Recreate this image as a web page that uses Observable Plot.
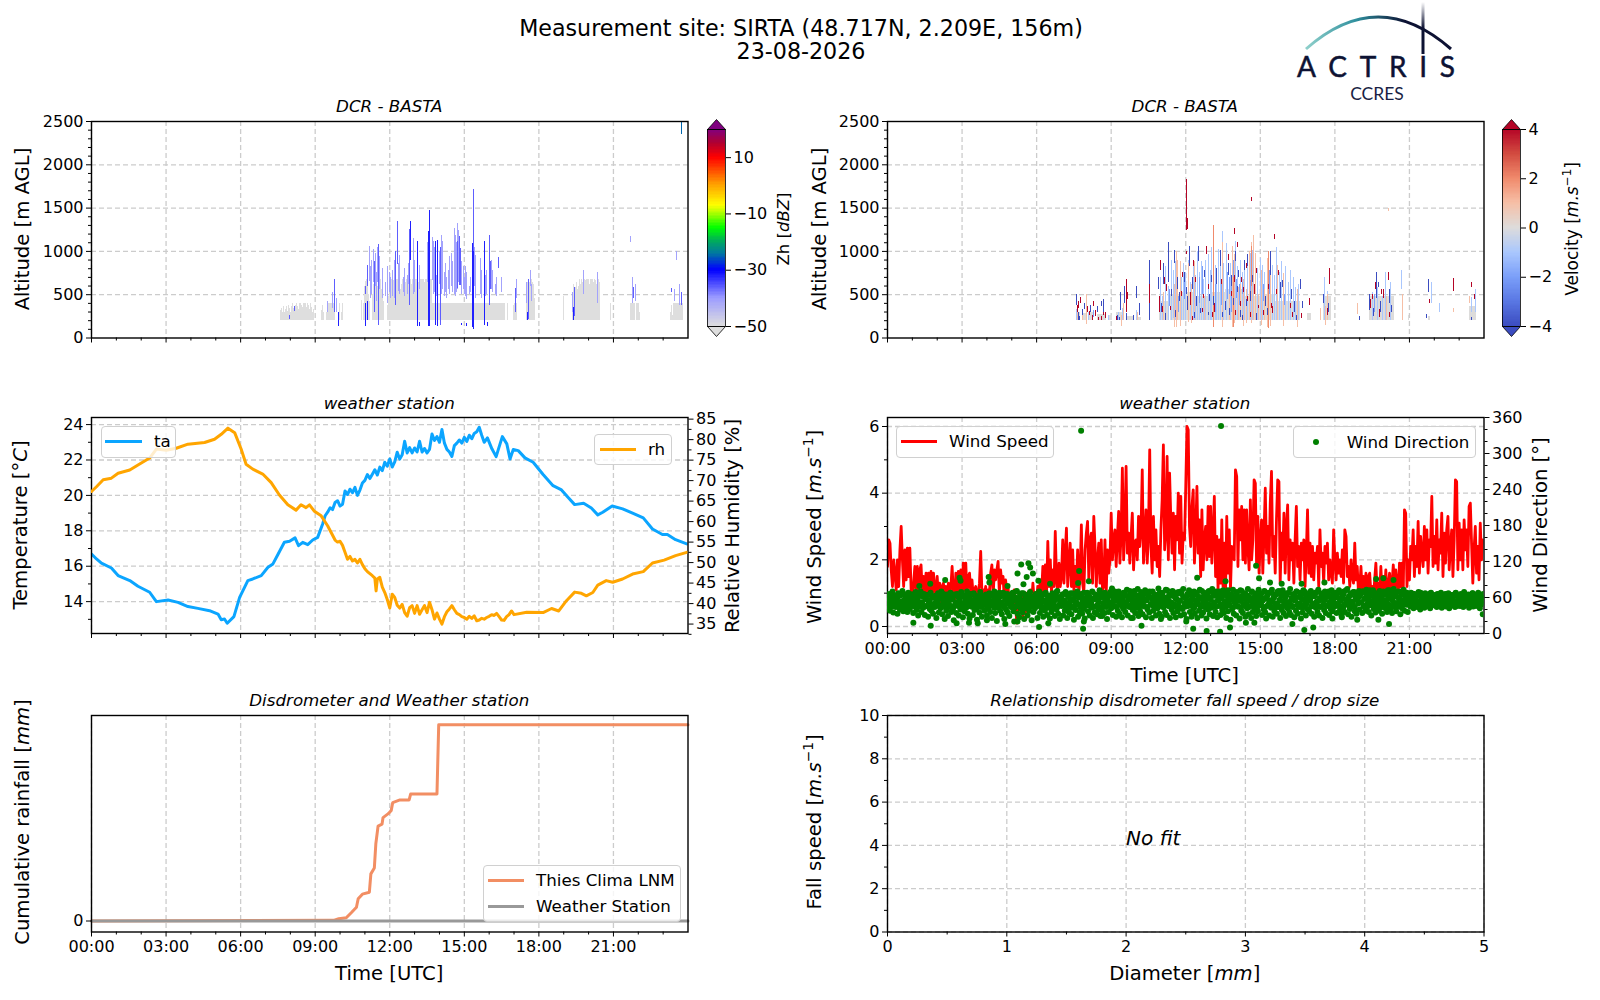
<!DOCTYPE html>
<html><head><meta charset="utf-8">
<script src="https://cdn.jsdelivr.net/npm/d3@7"></script>
<script src="https://cdn.jsdelivr.net/npm/@observablehq/plot@0.6"></script>
<style>
html,body{margin:0;background:#fff}
#page{position:relative;width:1600px;height:1000px;overflow:hidden;font-family:"DejaVu Sans";color:#000}
#page svg{position:absolute}
.t{position:absolute;white-space:nowrap;transform:translate(-50%,-50%)}
.r{position:absolute;white-space:nowrap;transform:translate(-50%,-50%) rotate(-90deg)}
.r sup{font-size:.7em;line-height:0}
.lg{position:absolute;background:rgba(255,255,255,.8);border:1.3px solid #d0d0d0;border-radius:4px;box-sizing:border-box}
.sw{position:absolute;height:3px}
.lt{position:absolute;font-size:16.7px;white-space:nowrap;transform:translateY(-50%)}
</style></head><body><div id="page"></div>
<script>
const majorHours=[0,3,6,9,12,15,18,21];
const minorHours=[1,2,4,5,7,8,10,11,13,14,16,17,19,20,22,23];
const altTicks=[0,500,1000,1500,2000,2500];
const altMinor=[100,200,300,400,600,700,800,900,1100,1200,1300,1400,1600,1700,1800,1900,2100,2200,2300,2400];
const tempTicks=[14,16,18,20,22,24];
const tempMinor=[13,15,17,19,21,23];
const rhTicks=[35,40,45,50,55,60,65,70,75,80,85];
const rhMinor=[32.5,37.5,42.5,47.5,52.5,57.5,62.5,67.5,72.5,77.5,82.5];
const speedTicks=[0,2,4,6];
const speedMinor=[1,3,5];
const dirTicks=[0,60,120,180,240,300,360];
const dirMinor=[20,40,80,100,140,160,200,220,260,280,320,340];
const fallTicks=[0,2,4,6,8,10];
const fallMinor=[1,3,5,7,9];
const diamTicks=[0,1,2,3,4,5];
const diamMinor=[0.5,1.5,2.5,3.5,4.5];
const zhTicks=[-50,-30,-10,10];
const zhStops=[-50,-40,-30,-24,-20,-15,-10,-7,0,10,15,20];
const zhColors=["#dedede","#9c9cff","#0000ff","#007a9e","#00a860","#00ff00","#a8ff00","#ffff00","#ffa500","#ff0000","#b00030","#800080"];
const velTicks=[-4,-2,0,2,4];
const velStops=[-4,-3,-2,-1,0,1,2,3,4];
const velColors=["#3b4cc0","#5977e3","#7b9ff9","#aac7fd","#dddcdb","#f6bfa6","#f08a6c","#d24b40","#b40426"];

const taHours=[0,.2,.4,.8,1.07,1.54,1.87,2.34,2.61,3.08,3.48,3.88,4.28,4.75,5.09,5.22,5.35,5.46,5.73,5.96,6.29,6.49,6.83,7.1,7.3,7.5,7.76,7.97,8.19,8.33,8.5,8.7,8.9,9.1,
9.3,9.4,9.5,9.6,9.7,9.8,9.9,10,10.1,10.2,10.3,10.4,10.5,10.6,10.7,10.8,10.9,11,11.1,11.2,11.3,11.4,11.5,11.6,11.7,11.8,11.9,12,12.1,12.2,12.3,12.4,12.5,12.6,12.7,12.8,12.9,13,13.1,13.2,13.3,13.4,13.5,13.6,13.7,13.8,13.9,14,14.1,14.2,14.3,14.4,14.5,14.6,14.7,14.8,14.9,15,15.1,15.2,15.3,15.4,15.5,15.6,15.7,15.8,
15.93,16.11,16.28,16.37,16.53,16.71,16.84,16.97,17.17,17.44,17.77,18.17,18.57,18.91,19.17,19.44,19.8,20.11,20.37,20.57,20.95,21.37,21.77,22.2,22.57,22.97,23.17,23.5,23.95];
const taValues=[16.69,16.41,16.17,15.9,15.47,15.19,14.87,14.53,14.0,14.09,13.96,13.72,13.62,13.49,13.3,12.98,13.02,12.78,13.15,14.24,15.19,15.28,15.47,15.94,16.13,16.66,17.35,17.41,17.6,17.16,17.35,17.22,17.48,17.63,
18.39,18.85,19.05,19.3,19.2,19.6,19.7,19.4,19.5,20.25,20.05,20.35,20.15,20.45,20.0,20.3,20.7,20.85,21.18,20.95,21.2,21.45,21.15,21.6,21.4,21.87,21.65,22.06,21.6,21.9,22.44,22.05,22.3,23.06,22.4,22.7,22.4,22.68,22.45,23.06,22.45,22.65,22.4,22.6,23.47,23.1,23.32,23.0,23.72,22.95,22.6,22.45,22.2,22.81,22.95,23.13,22.95,23.28,23.05,23.4,23.2,23.5,23.6,23.85,23.4,23.0,
23.25,22.63,22.19,22.6,23.32,22.91,22.06,22.59,22.53,22.12,21.87,21.18,20.55,20.31,19.89,19.48,19.56,19.29,18.9,19.05,19.4,19.24,19.0,18.73,18.1,17.79,17.79,17.5,17.26];
const rhHours=[0,.2,.47,.8,1.07,1.54,1.87,2.34,2.61,3.01,3.41,3.88,4.55,4.95,5.22,5.49,5.76,6.02,6.22,6.49,6.89,7.23,7.56,7.9,8.23,8.43,8.63,8.77,8.97,9.24,9.5,
9.8,9.9,10,10.1,10.2,10.3,10.4,10.5,10.6,10.7,10.8,10.9,11,11.1,11.2,11.3,11.4,11.45,11.5,11.6,11.7,11.8,11.9,12,12.1,12.2,12.3,12.4,12.5,12.6,12.7,12.8,12.9,13,13.1,13.2,13.3,13.4,13.5,13.6,13.7,13.8,13.9,14,14.1,14.2,14.3,14.4,14.5,14.6,14.7,14.8,14.9,15,15.1,15.2,15.3,15.4,15.5,15.6,15.7,15.8,15.9,16,16.1,16.2,16.3,16.4,16.5,16.6,16.7,16.8,16.9,17,
17.51,18.17,18.51,18.8,19.11,19.44,19.71,19.91,20.17,20.37,20.71,20.97,21.37,21.77,22.2,22.57,23.04,23.5,23.95];
const rhValues=[67.35,68.5,70.2,70.6,71.8,72.6,73.8,75.5,77.7,77.4,77.9,78.9,79.3,80.1,81.3,82.8,81.7,77.7,74.0,72.8,71.6,69.5,66.5,64.1,62.8,64.1,63.4,64.1,62.5,61.4,59.0,
55.5,55,55.2,54.2,52.5,50.8,51.5,50.4,50.8,49.9,50.8,49.5,48.5,47.8,47.3,46.8,46.2,43.1,46,46.4,44,42.7,41,38.9,42.3,41.5,39.6,38.9,39.8,37.8,36.9,39,39.5,37.6,39.5,37.4,38.5,39.5,37.8,40.3,38.5,36.2,37.7,36.2,35,36.8,38,38.7,39.5,38.5,37.6,37.3,36.8,36.6,36.2,36.9,36.4,37,35.8,36,36.4,36.2,36.6,36.9,37.3,37.1,37.6,36.8,36,35.9,36.8,37.3,38.2,37.3,
37.9,37.8,38.8,38.2,40.7,42.8,42.5,41.9,42.7,44.5,45.6,45.2,46,47.2,47.8,49.9,50.6,51.7,52.5];

const speedStep=0.05;
const windSpeed=[
1.8,2.6,2.5,1.7,1.2,2.0,1.6,1.1,2.0,1.2,2.3,3.0,2.0,1.2,2.3,1.4,2.35,1.5,2.35,1.1,
1.0,1.3,1.8,1.0,1.8,1.1,1.7,1.85,1.0,1.5,0.9,1.6,1.0,1.6,1.1,1.65,0.9,1.6,1.2,0.8,
1.5,0.9,1.3,0.7,1.2,1.3,0.9,1.2,0.7,1.3,1.0,1.2,1.8,1.0,0.8,1.6,1.0,1.65,0.9,1.7,
1.0,1.9,1.1,1.9,0.9,1.5,1.6,1.0,1.4,0.9,1.1,1.2,0.8,1.0,1.3,2.25,1.0,1.1,0.9,1.2,
0.8,1.1,1.0,1.6,1.85,0.9,1.7,1.4,1.7,1.95,1.0,1.7,1.3,1.5,0.8,1.4,1.1,1.2,0.7,1.0,
1.0,0.6,1.1,0.7,0.1,0.6,1.0,0.5,0.9,0.3,0.8,0.4,1.0,0.9,0.5,1.1,0.7,1.3,0.8,1.0,
0.9,1.2,1.0,1.4,1.0,1.8,1.1,1.85,1.0,2.55,1.2,2.0,1.0,1.7,1.2,2.85,1.4,1.0,1.9,1.2,
1.5,2.6,1.3,2.2,2.95,1.2,1.9,2.5,1.2,2.3,1.1,1.8,1.2,2.3,1.0,1.6,3.05,1.3,1.0,2.3,
2.8,3.15,1.4,2.6,2.8,1.3,3.3,2.4,1.2,2.0,2.5,1.3,2.6,1.1,1.2,2.6,1.0,2.3,1.6,2.0,
3.4,2.0,2.6,2.9,1.8,2.7,3.45,1.9,2.8,4.75,2.0,3.0,4.8,2.2,2.8,1.9,2.7,3.4,1.7,2.5,
2.6,2.0,3.3,2.4,2.9,4.7,1.9,2.6,3.5,1.9,2.8,5.3,2.4,1.6,3.3,2.0,2.9,1.8,2.4,1.5,
2.9,3.8,5.45,2.3,2.8,5.1,2.0,4.6,3.2,2.2,3.4,1.7,3.3,2.6,4.0,2.2,3.9,1.9,2.8,2.6,
4.2,6.0,5.9,3.0,2.4,3.6,4.1,1.9,2.8,4.2,2.2,3.2,1.5,3.5,1.7,2.6,3.0,2.0,3.6,2.1,
3.6,1.9,2.8,3.9,1.5,2.7,1.1,2.6,1.3,3.2,1.2,2.5,1.0,3.3,1.6,2.9,1.1,2.4,2.2,2.0,
4.7,4.5,1.8,3.5,2.6,3.6,2.0,3.5,1.9,3.5,2.4,1.7,3.8,2.0,2.6,4.4,4.3,1.8,3.3,1.6,
2.6,3.2,1.6,2.8,4.15,2.2,3.0,1.9,3.7,4.65,2.1,2.7,1.6,3.2,4.4,4.35,1.3,2.8,2.0,3.4,
1.6,3.0,3.65,1.4,2.6,2.0,2.5,1.3,2.6,3.6,1.8,2.4,1.4,2.5,2.0,2.6,1.2,2.2,3.5,1.6,
2.5,1.5,2.4,1.4,2.2,1.9,2.4,1.2,2.9,1.8,2.2,1.3,2.4,1.9,2.5,1.4,2.0,1.6,1.3,2.9,
2.0,1.4,2.2,1.6,2.0,1.5,2.3,1.3,2.9,2.7,1.5,1.8,1.2,2.0,1.5,1.3,2.5,1.4,1.8,1.0,
1.2,1.8,1.0,1.5,1.1,1.6,0.9,1.5,1.6,1.0,1.2,0.8,1.4,1.9,1.0,1.3,0.9,1.8,1.0,1.5,
1.0,1.7,0.9,1.2,1.6,1.0,1.3,1.85,1.1,1.7,1.3,1.0,1.9,1.2,1.9,1.0,3.5,3.4,1.2,2.0,
1.4,2.4,2.0,2.9,1.5,2.4,1.8,3.15,1.6,2.7,2.2,1.8,3.0,2.0,2.9,1.6,2.6,2.4,3.9,1.8,
2.7,1.9,3.2,1.7,2.6,2.2,3.4,1.5,2.8,1.9,2.9,3.3,1.7,2.4,2.9,1.5,2.6,4.4,4.35,1.7,
3.1,2.0,2.9,1.7,3.2,2.3,2.9,1.8,3.6,3.7,2.5,1.3,2.3,3.0,1.6,2.4,1.4,3.1,2.0,2.6];

const dirStep=1/30;
const windDir=[
55,42,66,38,60,48,70,35,52,63,44,58,33,67,50,40,64,46,71,37,56,43,62,49,36,68,53,41,59,47,
65,34,54,45,69,39,57,30,62,48,70,36,51,43,66,31,58,46,64,28,55,41,68,38,60,33,49,44,63,26,
52,67,35,59,42,70,32,56,47,24,61,38,65,29,53,44,68,36,58,41,22,63,50,34,66,46,30,57,40,69,
48,27,62,37,55,43,70,33,59,25,64,45,52,31,67,39,56,42,23,60,48,35,69,44,28,54,62,38,50,65,
30,58,41,67,36,53,26,63,46,70,34,57,21,61,43,68,38,51,32,65,47,24,59,40,66,35,55,29,62,44,
52,68,37,20,60,45,71,33,56,27,64,41,49,35,67,24,58,43,62,30,53,38,69,46,22,61,36,55,42,66,
60,26,48,70,34,57,41,65,28,53,38,68,45,31,63,50,25,59,36,67,43,54,29,62,40,71,33,47,24,58,
46,65,30,55,38,69,42,26,61,35,50,67,32,57,44,23,64,39,52,70,28,60,36,47,66,33,54,41,25,59,
48,68,37,62,30,53,43,70,26,58,35,65,45,32,56,40,72,29,61,38,50,67,34,55,44,24,63,36,52,69,
42,75,31,58,46,66,28,54,38,70,33,62,47,27,59,41,68,36,52,73,30,57,44,65,26,60,39,50,71,34,
56,43,74,29,63,37,51,67,32,58,45,72,27,55,40,66,35,61,48,26,70,38,53,64,30,57,42,75,33,49,
60,28,68,44,54,36,73,31,59,46,65,26,52,40,71,34,62,48,27,57,37,69,43,55,30,66,41,74,32,50,
58,24,66,46,72,36,54,28,62,41,70,33,49,64,26,56,38,73,44,30,60,35,68,47,52,25,65,40,71,32,
57,43,74,29,50,63,36,70,27,55,46,66,31,60,39,72,34,53,44,26,68,37,58,48,23,64,41,73,33,52,
61,30,69,45,55,25,72,38,62,34,49,67,28,57,42,74,32,60,46,26,70,36,54,41,65,29,58,37,73,48,
52,66,31,58,40,71,35,25,62,47,68,30,55,43,73,28,60,37,50,65,33,70,44,56,26,64,39,72,34,53,
60,29,67,42,52,36,74,31,56,46,65,27,61,38,70,33,50,44,68,25,58,35,72,47,54,30,63,41,66,37,
56,71,33,48,62,28,68,43,53,36,73,30,59,45,66,26,55,39,70,34,61,47,64,31,52,41,72,37,57,44,
50,68,34,60,46,72,38,54,30,65,43,70,36,57,48,74,32,62,41,67,28,53,45,69,37,59,33,64,50,71,
40,66,52,34,70,46,58,38,73,44,62,36,55,68,30,49,72,41,60,35,66,47,53,38,71,43,58,33,64,50,
69,42,56,36,72,48,60,40,67,34,54,74,44,62,37,51,70,46,58,32,66,42,55,73,38,60,48,68,36,52,
62,45,68,50,58,42,66,47,55,63,44,69,52,40,60,48,65,54,43,67,50,58,46,62,56,42,68,49,60,53,
47,64,54,44,66,51,59,46,68,43,56,62,49,65,45,58,52,67,42,60,50,64,47,55,63,44,68,53,48,61,
58,46,66,50,63,44,69,54,47,60,52,65,43,57,62,48,67,45,55,64,50,59,46,68,53,42,61,49,56,66];
const coreStep=0.05;
const windDirCore=[
58,48,62,52,45,64,55,50,60,46,63,53,47,66,51,44,61,56,49,65,
54,46,63,50,59,44,65,52,48,61,45,57,64,49,55,43,62,47,60,53,
51,64,45,58,48,66,54,43,60,50,63,46,57,44,65,52,48,61,55,47,
62,50,44,64,53,47,59,66,45,56,49,63,43,58,51,65,46,60,54,48,
45,60,53,66,47,55,43,64,50,58,46,62,52,68,44,57,49,65,54,61,
48,63,56,44,70,51,59,46,67,54,42,64,49,58,66,45,61,52,47,63,
53,46,65,50,60,44,66,55,48,62,43,58,51,64,47,56,69,45,61,52,
60,48,66,53,45,64,50,58,43,67,55,47,62,49,65,44,59,52,68,46,
55,65,47,60,50,69,44,57,63,48,54,66,43,61,51,68,46,58,64,49,
47,62,54,70,44,59,66,50,56,45,68,52,63,46,60,71,48,55,65,43,
64,50,58,45,69,53,47,66,56,44,62,70,49,57,46,65,52,60,45,68,
52,67,44,60,49,72,55,46,63,51,69,45,58,66,48,54,70,43,61,50,
45,62,53,70,47,58,66,44,55,68,49,61,46,71,52,64,43,57,69,48,
60,46,67,52,44,63,55,70,48,58,45,66,51,62,72,47,56,65,43,59,
50,68,45,61,54,71,46,58,66,49,63,44,55,69,47,60,52,67,45,57,
62,47,55,70,44,58,65,50,46,68,53,60,43,66,49,71,56,45,63,52,
46,64,52,68,48,59,44,66,55,70,47,61,50,65,43,57,69,49,62,54,
58,45,66,50,62,47,69,54,44,60,67,48,56,64,46,70,52,59,45,65,
50,63,47,68,55,45,60,66,49,72,53,58,46,64,51,69,44,61,56,67,
62,52,70,46,58,66,49,55,72,47,63,53,68,45,60,51,66,48,57,70,
48,66,55,62,72,46,58,64,50,68,44,60,54,70,47,65,52,57,63,49,
54,62,47,66,52,58,45,64,50,68,56,46,61,53,65,48,59,67,51,57,
60,48,65,53,58,46,63,55,50,66,47,61,54,59,49,64,52,67,46,56,
51,63,56,47,66,54,60,48,64,52,58,67,46,62,50,65,55,47,60,53];
const dirOutlierHours=[7.79,13.42,2.32,4.07,2.9,5.23,5.38,5.67,5.74,5.85,5.6,6.07,7.71,8.1,7.67,1.72,6.54,1.28,2.94,4.1,4.83,5.47,1.04,1.74,2.78,3.28,3.63,4.0,4.74,5.23,6.1,6.47,7.87,7.9,8.64,9.87,10.22,11,12.02,14.83,14.95,12.46,13.6,15.86,17.58,19.66,19.95,20.36,15.39,16.66,12.3,12.84,13.38,13.78,14.42,14.76,16.29,16.77,17.13,17.9,18.28,18.9,19.75,20.18,23.95];
const dirOutlierValues=[338,346,89,94,93,100,115,117,110,100,94,88,104,87,84,83,83,79,88,85,79,82,18,13,17,18,17,22,16,20,11,17,8,20,29,26,13,24,20,113,92,93,87,83,85,91,92,89,85,83,8,4,3,10,18,18,16,6,10,25,27,23,23,16,32];

const rainHours=[0,9.74,9.95,10.25,10.46,10.66,10.73,10.9,11.18,11.24,11.38,11.44,11.53,11.69,11.73,11.94,12.06,12.12,12.41,12.78,12.84,13.9,13.97,24];
const rainThies=[0,.01,.036,.05,.13,.21,.34,.41,.44,.72,.81,1.18,1.45,1.48,1.58,1.64,1.69,1.81,1.85,1.85,1.94,1.94,3,3];
const rainStationHours=[0,24];
const rainStation=[0,0];

const zhGreyStart=7.6, zhGreyStep=0.04;
const zhGreyTops=[
320,340,300,360,300,330,360,310,380,340,300,360,400,340,320,380,420,360,330,400,420,380,350,400,430,
400,350,420,380,330,400,350,300,330,0,0,0,0,0,0,0,320,380,300,0,0,300,420,480,440,
500,560,620,450,380,0,0,0,300,460,0,300,500,0,0,0,0,0,0,0,0,0,0,0,0,
0,0,0,0,0,0,0,430,0,400,600,650,700,680,500,420,0,0,500,620,680,700,640,600,550,
620,700,560,480,420,0,0,0,380,480,500,620,760,700,660,620,580,700,760,720,640,560,620,700,640,
580,640,700,760,820,900,780,620,700,760,640,700,820,880,640,700,760,820,860,700,640,760,820,640,700,
760,820,900,780,640,560,500,460,520,600,700,800,860,940,780,700,620,540,500,460,420,560,640,520,460,
520,600,700,620,500,440,520,620,720,620,520,440,500,560,640,720,760,640,560,500,560,620,700,760,640,
560,640,720,660,560,520,600,680,640,560,500,560,640,700,600,520,460,520,600,680,640,520,560,640,620,
560,0,0,600,0,0,0,0,0,380,460,500,420,0,0,0,0,0,0,0,0,0,0,520,640,
700,640,760,720,640,620,460,0,0,0,0,0,0,0,0,0,0,0,0,0,0,0,0,0,0,
0,0,0,0,0,0,0,0,0,0,480,0,0,0,0,0,0,0,0,520,620,500,580,640,560,
600,680,620,700,640,720,760,660,780,740,680,620,700,800,720,640,740,660,620,800,860,640,0,0,0,
0,0,0,0,0,0,0,560,0,0,0,0,0,0,0,0,0,0,0,0,0,0,0,0,0,
0,0,720,640,560,460,420,0,640,700,600,300,0,0,0,0,0,0,0,0,0,0,0,0,0,
0,0,0,0,0,0,0,0,0,0,0,0,0,0,0,0,0,300,380,260,520,500,620,640,560,
600,540,500,620,460];
const zhBase=205, zhSolidTop=400, zhSpeckleTop=680;
const zhStrong=[[13.12,130,1110],[13.6,130,1470],[13.56,130,1230],[13.93,130,1130],[13.86,150,1120],[12.86,220,1000],[12.84,900,1350],[15.37,100,1000],[15.33,120,1090],[15.81,150,1120],[16.4,110,900],[15.6,150,1100],[11.74,130,650],[11.02,130,400],[9.95,130,300],[11.12,200,420],[19.41,205,350],[20.22,300,420],[17.54,205,300],[12.5,130,170],[13.2,130,175],[14.9,140,170],[15.1,130,170],[15.95,130,180]];
const zhMid=[[15.37,1000,1710],[11.56,150,1080],[11.45,600,1000],[11.38,300,880],[11.65,700,1000],[12.32,850,1350],[12.25,380,1000],[13.42,770,1190],[12.79,380,1250],[13.99,190,1100],[14.05,150,1050],[14.8,610,1170],[14.73,570,1120],[14.86,610,1030],[16.03,380,1180],[16.38,800,930],[16.07,560,880],[9.78,300,680],[9.6,380,580],[7.97,210,260],[8.17,310,360],[17.07,300,570],[17.6,210,670],[19.43,250,580],[19.62,280,480],[20.02,300,730],[20.22,400,640],[20.42,340,900],[21.96,1330,1400],[21.82,460,580],[23.74,380,530],[23.34,530,570],[11.02,500,600],[11.12,600,840]];
const zhLight=[[11.18,650,1060],[11.28,500,900],[11.42,600,980],[11.52,640,1050],[11.7,460,800],[11.9,400,820],[12.05,460,700],[12.13,480,780],[12.2,460,900],[12.4,500,950],[12.5,450,780],[12.6,480,800],[12.72,500,720],[12.95,500,1150],[13.0,520,900],[13.06,480,1000],[13.2,560,840],[13.3,460,900],[13.38,600,1180],[13.46,500,1050],[13.5,460,1170],[13.7,500,1000],[13.76,500,1120],[14.1,500,1180],[14.2,480,760],[14.3,460,700],[14.42,500,940],[14.6,500,1000],[14.66,480,1180],[14.72,560,1320],[14.9,500,880],[15.0,500,700],[15.1,440,760],[15.2,500,600],[15.45,460,950],[15.52,500,1090],[15.7,460,780],[15.9,500,780],[16.0,460,1000],[16.15,520,780],[16.25,500,620],[16.32,560,980],[16.5,520,700],[17.1,460,680],[17.66,600,780],[19.58,600,700],[19.8,500,780],[20.1,580,740],[20.3,700,820],[12.1,1300,1430],[21.7,1100,1170],[23.55,900,1000],
[11.22,460,820],[11.34,640,1020],[11.48,420,760],[11.6,560,940],[11.84,480,640],[12.0,520,760],[12.36,540,860],[12.46,620,920],[12.56,520,700],[12.66,560,820],[12.76,620,860],[12.9,560,1000],[13.02,640,1060],[13.1,420,640],[13.26,620,920],[13.34,520,1100],[13.52,640,1100],[13.66,560,820],[13.72,660,1160],[13.8,520,1040],[13.9,480,720],[14.02,620,1000],[14.14,560,1120],[14.26,520,860],[14.36,560,780],[14.48,600,980],[14.54,520,880],[14.62,680,1260],[14.7,520,1100],[14.78,640,1240],[14.96,560,820],[15.06,480,820],[15.26,520,700],[15.42,600,1040],[15.48,520,880],[15.56,620,1000],[15.66,500,920],[15.76,560,840],[15.86,480,720],[15.96,520,960],[16.1,560,900],[16.2,520,760],[16.3,480,700],[16.44,560,860],[16.56,500,640],[17.04,360,520],[17.5,400,640],[17.7,420,620],[19.36,300,520],[19.5,360,620],[19.7,300,560],[19.9,340,680],[20.14,320,620],[20.36,400,760],[21.76,400,700],[21.9,420,620],[23.45,420,560],[23.66,380,620],[9.5,300,420],[9.7,340,520],[9.86,300,460]];
const zhTeal=[[23.75,2350,2500]];

const velBaseBlocks=[[7.6,7.75,300],[7.9,8.0,280],[8.1,8.3,300],[8.45,8.8,270],[8.9,9.05,260],[9.2,9.5,290],[9.6,9.9,250],[10.0,10.2,240],[10.95,11.3,420],[11.4,11.8,500],[11.85,12.4,520],[12.4,13,480],[13,13.6,520],[13.6,14.4,560],[14.4,15,480],[15,15.6,500],[15.6,16.6,420],[16.9,17.05,280],[17.55,17.85,480],[19.4,20.4,480],[20.95,21.0,260],[21.75,21.85,250],[23.4,23.7,360]];
const velPale=[[7.62,205,330],[8.1,205,300],[8.9,205,260],[9.3,205,300],[9.45,205,340],[10.02,205,320],[11,205,700],[11.08,205,480],[11.2,205,820],[11.3,205,600],[11.42,205,900],[11.5,230,780],[11.6,205,880],[11.82,205,700],[11.92,205,860],[12,205,760],[12.1,205,900],[12.18,205,640],[12.3,205,820],[12.38,205,720],[12.46,205,1000],[12.55,205,760],[12.64,205,880],[12.72,205,680],[12.8,205,900],[12.9,205,960],[12.98,205,780],[13.05,205,1050],[13.18,205,840],[13.25,205,780],[13.32,205,1020],[13.4,205,900],[13.46,205,1230],[13.52,205,860],[13.62,205,1090],[13.7,205,1200],[13.8,205,860],[13.88,205,940],[14.02,205,1120],[14.1,205,820],[14.2,205,900],[14.3,205,760],[14.38,205,840],[14.5,205,880],[14.6,205,980],[14.7,205,1010],[14.82,205,860],[14.9,205,800],[15,205,920],[15.1,205,840],[15.18,205,760],[15.28,205,900],[15.4,205,1000],[15.5,205,840],[15.58,205,720],[15.66,205,1040],[15.76,205,760],[15.84,205,880],[15.92,205,700],[16.02,205,820],[16.12,205,640],[16.2,205,780],[16.32,205,700],[16.42,205,580],[16.55,205,620],[17.6,205,700],[17.7,205,540],[19.5,205,520],[19.7,205,580],[19.92,205,480],[20.05,205,760],[20.25,205,640],[21.9,400,640],[23.5,300,470],[23.65,300,560],[20.7,560,780],[22.2,300,400]];
const velMid=[[12.3,480,900],[12.42,520,780],[12.55,400,700],[12.68,500,820],[12.78,360,640],[12.9,460,800],[13.02,430,780],[13.1,560,960],[13.2,300,620],[13.3,460,800],[13.38,500,720],[13.44,380,640],[13.5,520,780],[13.58,560,820],[13.68,440,760],[13.76,380,700],[13.86,300,640],[13.94,500,900],[14.06,460,680],[14.16,380,620],[14.3,500,640],[14.46,360,560],[14.6,460,660],[11.72,300,480],[11.95,440,700],[11.35,360,560],[15.12,420,620],[15.36,500,780],[15.7,360,560],[15.98,380,500],[16.28,300,480],[19.6,300,500],[8.3,240,320]];
const velSalmon=[[7.65,205,300],[7.85,205,280],[8.0,160,500],[9.28,140,300],[9.42,130,260],[9.5,205,400],[10.05,205,300],[11.05,140,800],[11.12,205,520],[11.25,205,700],[11.45,140,500],[11.55,120,620],[11.62,120,1000],[11.68,200,900],[11.8,130,880],[11.98,160,720],[12.12,180,860],[12.24,170,620],[12.35,205,880],[12.5,150,620],[12.62,170,900],[12.76,205,480],[12.86,120,760],[13.06,110,1120],[13.14,120,1170],[13.22,205,580],[13.34,170,480],[13.48,120,1100],[13.54,140,780],[13.66,205,640],[13.78,205,500],[13.9,120,1060],[13.98,170,960],[14.12,205,580],[14.22,205,620],[14.34,130,680],[14.44,170,560],[14.56,205,1000],[14.65,170,1100],[14.74,205,1180],[14.82,205,980],[14.92,205,500],[15.06,150,780],[15.16,205,560],[15.3,120,920],[15.42,130,860],[15.56,180,1060],[15.7,205,840],[15.8,150,560],[15.95,130,740],[16.08,205,600],[16.2,150,500],[16.36,205,640],[16.5,120,560],[16.72,205,440],[17.42,205,340],[17.62,140,360],[17.72,205,500],[18.92,270,400],[19.38,205,400],[19.86,205,730],[19.98,205,560],[20.08,205,480],[20.16,1465,1500],[20.14,1240,1290],[20.72,205,500],[22.78,290,340],[23.42,400,480]];
const velOrange=[[8.08,120,250],[9.44,110,160],[11.09,120,700],[11.66,110,1120],[11.74,130,1000],[12.62,300,640],[13.12,120,1300],[13.92,120,700],[14.66,600,1060],[14.76,560,1000],[15.34,110,1000],[15.6,400,900],[16.52,120,300],[19.9,260,560],[11.22,300,520],[12.02,205,500]];
const velBlue=[[7.62,380,500],[7.7,205,300],[7.86,260,330],[8.08,240,360],[8.18,300,380],[8.35,220,260],[8.55,205,240],[8.7,300,440],[8.8,400,540],[9.25,205,260],[9.38,320,520],[9.55,400,600],[9.68,560,700],[9.8,330,380],[10.02,460,600],[10.15,260,400],[10.55,205,900],[10.9,560,700],[11.12,620,860],[11.32,640,1100],[11.44,480,560],[11.55,860,1010],[11.68,560,700],[11.85,860,1000],[11.95,640,760],[12.08,320,480],[12.15,820,1060],[12.28,560,700],[12.44,360,480],[12.52,880,1060],[12.66,600,740],[12.82,520,660],[12.95,420,500],[13.12,380,480],[13.24,620,800],[13.4,820,1010],[13.5,1160,1240],[13.6,320,420],[13.63,1560,1600],[13.72,720,860],[13.84,600,720],[14.0,880,1000],[14.1,520,600],[14.22,240,320],[14.36,780,900],[14.5,820,960],[14.62,420,540],[14.8,300,400],[14.92,600,680],[15.04,880,1000],[15.22,360,480],[15.42,720,1000],[15.6,980,1060],[15.82,460,640],[15.96,280,340],[16.12,660,780],[16.26,440,560],[16.38,300,420],[16.62,560,680],[16.84,230,300],[17.0,600,720],[17.55,400,500],[17.76,300,400],[19.0,200,250],[19.4,320,500],[19.55,250,340],[19.68,460,760],[19.76,580,640],[19.84,300,420],[20.02,240,300],[20.14,1460,1480],[20.2,400,560],[20.34,205,260],[20.5,205,230],[21.7,230,270],[21.78,530,680],[22.0,205,280],[21.96,380,480],[23.5,205,240],[23.45,300,360],[23.72,460,500],[23.68,2460,2500],
[7.74,205,250],[7.94,330,400],[8.24,205,280],[8.46,300,360],[8.62,360,420],[9.2,280,340],[9.34,205,240],[9.62,205,280],[9.9,205,260],[11.02,300,400],[11.18,205,280],[11.38,320,440],[11.6,240,320],[11.76,420,520],[11.9,205,250],[12.04,500,580],[12.36,220,300],[12.6,280,340],[12.76,700,780],[12.92,260,300],[13.04,640,720],[13.34,440,520],[13.48,240,300],[13.78,260,340],[13.92,380,460],[14.14,700,780],[14.3,205,260],[14.44,360,440],[14.7,640,720],[14.86,205,280],[15.12,560,640],[15.3,260,340],[15.52,440,520],[15.72,240,300],[15.9,580,660],[16.08,360,440],[16.46,205,260],[16.7,340,420],[19.46,420,480],[19.62,205,260],[19.9,600,680],[20.28,300,380]];
const velRed=[[12.03,1240,1830],[12.09,1250,1380],[11.09,1195,1220],[7.64,300,380],[7.78,400,470],[8.05,300,360],[8.25,205,260],[8.38,250,320],[8.62,205,250],[8.78,230,290],[9.32,260,480],[9.48,580,760],[9.62,300,680],[9.72,205,240],[10.05,460,540],[10.25,300,600],[10.55,400,620],[10.95,300,480],[11.0,780,900],[11.15,620,700],[11.4,320,360],[11.5,960,1100],[11.58,560,640],[11.78,260,320],[11.88,700,760],[12.05,960,1000],[12.2,380,520],[12.32,820,900],[12.46,520,580],[12.58,760,820],[12.72,460,500],[12.85,960,1060],[12.98,640,700],[13.16,300,400],[13.3,700,780],[13.42,1310,1380],[13.62,1410,1460],[13.55,560,620],[13.72,900,960],[13.98,1200,1270],[13.96,640,720],[14.08,1050,1100],[14.2,360,420],[14.34,520,580],[14.44,800,860],[14.64,1580,1620],[14.72,1120,1180],[14.78,500,620],[14.94,340,380],[15.08,600,680],[15.28,1240,1350],[15.2,820,880],[15.5,280,360],[15.58,1140,1200],[15.74,720,780],[15.88,1120,1180],[16.04,500,560],[16.22,340,400],[16.4,800,880],[16.56,420,500],[16.8,500,700],[16.98,380,460],[17.65,380,600],[17.78,620,800],[18.9,520,650],[19.44,340,440],[19.58,280,360],[19.64,560,640],[19.8,240,330],[19.96,460,560],[20.06,320,380],[20.16,660,760],[21.07,380,500],[21.55,300,400],[21.82,400,440],[22.77,535,690],[23.32,205,260],[23.62,440,500],[23.5,580,640],
[7.7,340,420],[7.92,205,240],[8.14,260,310],[8.3,360,420],[8.5,205,240],[8.7,260,300],[9.22,205,250],[9.36,540,640],[9.52,205,240],[9.66,440,520],[9.96,300,360],[11.06,300,360],[11.24,540,620],[11.46,700,760],[11.7,205,240],[11.84,480,540],[12.14,300,360],[12.28,205,250],[12.4,640,700],[12.68,300,340],[12.92,560,620],[13.08,240,300],[13.26,440,500],[13.44,620,680],[13.66,300,360],[13.84,480,540],[14.02,260,320],[14.26,640,700],[14.5,420,480],[14.62,240,300],[14.86,740,800],[15.0,460,520],[15.14,260,320],[15.34,560,620],[15.46,340,400],[15.66,500,560],[15.84,300,360],[16.16,560,620],[16.3,240,300],[16.48,640,700],[16.66,220,280],[17.7,260,340],[19.52,440,500],[19.74,300,360],[19.88,500,560],[20.2,240,300]];

const W=596.5, ML=60, MR=60, MT=10, MB=40;
const GRID={stroke:"#cccccc",strokeOpacity:1,strokeWidth:1.3,strokeDasharray:"5,3"};
const STYLE={background:"transparent",fontFamily:"DejaVu Sans",fontSize:"16px",overflow:"visible"};
const page=document.getElementById("page");
const hhmm=h=>String(h).padStart(2,"0")+":00";
const blank=()=>"";

function place(svg,left,top){svg.style.left=left+"px";svg.style.top=top+"px";svg.style.maxWidth="none";page.appendChild(svg);}
function panel({left,top,h,x,y,color,marks}){
  const svg=Plot.plot({width:W+ML+MR,height:h+MT+MB,marginLeft:ML,marginRight:MR,marginTop:MT,marginBottom:MB,style:STYLE,x,y,color,marks});
  place(svg,left-ML,top-MT);
}
const xHours={domain:[0,24]};
const xHoursHidden={domain:[0,24],axis:null};
function xAxes(labels){return [
  Plot.axisX({ticks:majorHours,tickSize:5,label:null,tickPadding:4,tickFormat:labels?hhmm:blank}),
  Plot.axisX({ticks:minorHours,tickSize:3,label:null,tickFormat:blank})];}
function yAxes(major,minor,anchor="left",fmt){return [
  Plot.axisY({anchor,ticks:major,tickSize:5,tickPadding:3,label:null,tickFormat:fmt||(d=>String(d))}),
  Plot.axisY({anchor,ticks:minor,tickSize:3,label:null,tickFormat:blank})];}
const strips=(rows,v,w)=>Plot.rect(rows,{x1:d=>d[0],x2:d=>d[0]+w,y1:d=>d[1],y2:d=>d[2],fill:()=>v,clip:true,shapeRendering:"crispEdges"});
const FRAME=Plot.frame({stroke:"#000",strokeWidth:1.4});

const zhColor={type:"linear",domain:zhStops,range:zhColors,clamp:true};
const velColor={type:"linear",domain:velStops,range:velColors,clamp:true};
const COLX1=91,COLX2=886.5,ROW1=120.5,ROW2=417.3,ROW3=715;
const CX1=COLX1+W/2,CX2=COLX2+W/2;

const greyRows=zhGreyTops.map((t,i)=>[zhGreyStart+i*zhGreyStep,t]).filter(d=>d[1]>0);
panel({left:COLX1,top:ROW1,h:216.5,x:xHours,y:{domain:[0,2500]},color:zhColor,marks:[
  Plot.gridX(majorHours,GRID),Plot.gridY([500,1000,1500,2000],GRID),
  Plot.rect(greyRows,{x1:d=>d[0],x2:d=>d[0]+zhGreyStep,y1:zhBase,y2:d=>Math.min(d[1],zhSolidTop),fill:()=>-50,shapeRendering:"crispEdges"}),
  Plot.rect(greyRows.filter(d=>d[1]>zhSolidTop),{x1:d=>d[0],x2:d=>d[0]+zhGreyStep/2,y1:zhSolidTop,y2:d=>Math.min(d[1],zhSpeckleTop),fill:()=>-50,shapeRendering:"crispEdges"}),
  strips(zhLight,-41,0.03),strips(zhMid,-36,0.028),strips(zhStrong,-32,0.028),strips(zhTeal,-25,0.02),
  FRAME,...xAxes(false),...yAxes(altTicks,altMinor)]});

panel({left:COLX2,top:ROW1,h:216.5,x:xHours,y:{domain:[0,2500]},color:velColor,marks:[
  Plot.gridX(majorHours,GRID),Plot.gridY([500,1000,1500,2000],GRID),
  Plot.rect(velBaseBlocks,{x1:d=>d[0],x2:d=>d[1],y1:zhBase,y2:d=>d[2],fill:()=>0,shapeRendering:"crispEdges"}),
  strips(velPale,-1,0.04),strips(velMid,-2,0.03),strips(velSalmon,1,0.03),strips(velOrange,2,0.025),
  strips(velBlue,-4,0.026),strips(velRed,4,0.026),
  FRAME,...xAxes(false),...yAxes(altTicks,altMinor)]});

panel({left:COLX1,top:ROW2,h:216,x:xHours,y:{domain:[12.2,24.4]},marks:[
  Plot.gridX(majorHours,GRID),Plot.gridY(tempTicks,GRID),
  Plot.line(taHours,{x:d=>d,y:(d,i)=>taValues[i],stroke:"#0ba5ff",strokeWidth:3,clip:true}),
  FRAME,...xAxes(false),...yAxes(tempTicks,tempMinor)]});
panel({left:COLX1,top:ROW2,h:216,x:xHoursHidden,y:{domain:[32.7,85.4]},marks:[
  Plot.line(rhHours,{x:d=>d,y:(d,i)=>rhValues[i],stroke:"#ffa500",strokeWidth:3,clip:true}),
  ...yAxes(rhTicks,rhMinor,"right")]});

panel({left:COLX2,top:ROW2,h:216,x:xHours,y:{domain:[-0.21,6.27]},marks:[
  Plot.gridX(majorHours,GRID),Plot.gridY(speedTicks,GRID),
  Plot.line(windSpeed,{x:(d,i)=>i*speedStep,y:d=>d,stroke:"#ff0000",strokeWidth:2.8,clip:true}),
  FRAME,...xAxes(true),...yAxes(speedTicks,speedMinor)]});
panel({left:COLX2,top:ROW2,h:216,x:xHoursHidden,y:{domain:[0,360]},marks:[
  Plot.dot(windDir,{x:(d,i)=>i*dirStep,y:d=>d,r:3,fill:"#008000",clip:true}),
  Plot.dot(windDirCore,{x:(d,i)=>i*coreStep,y:d=>d,r:3,fill:"#008000",clip:true}),
  Plot.dot(dirOutlierHours,{x:d=>d,y:(d,i)=>dirOutlierValues[i],r:3,fill:"#008000",clip:true}),
  ...yAxes(dirTicks,dirMinor,"right")]});

panel({left:COLX1,top:ROW3,h:216.5,x:xHours,y:{domain:[-0.168,3.14]},marks:[
  Plot.gridX(majorHours,GRID),
  Plot.line(rainHours,{x:d=>d,y:(d,i)=>rainThies[i],stroke:"#f28e63",strokeWidth:3}),
  Plot.line(rainStationHours,{x:d=>d,y:(d,i)=>rainStation[i],stroke:"#999999",strokeWidth:3}),
  FRAME,...xAxes(true),...yAxes([0],[])]});

panel({left:COLX2,top:ROW3,h:216.5,x:{domain:[0,5]},y:{domain:[0,10]},marks:[
  Plot.gridX(diamTicks,GRID),Plot.gridY(fallTicks,GRID),
  Plot.text(["No fit"],{x:2,y:4,text:d=>d,textAnchor:"start",lineAnchor:"bottom",fontSize:20,fontStyle:"italic"}),
  FRAME,
  Plot.axisX({ticks:diamTicks,tickSize:5,label:null,tickPadding:4,tickFormat:d=>String(d)}),
  Plot.axisX({ticks:diamMinor,tickSize:3,label:null,tickFormat:blank}),
  ...yAxes(fallTicks,fallMinor)]});

const triUp={draw(c){c.moveTo(0,-10);c.lineTo(9,0);c.lineTo(-9,0);c.closePath();}};
const triDown={draw(c){c.moveTo(0,10);c.lineTo(9,0);c.lineTo(-9,0);c.closePath();}};
function colorbar({left,min,max,step,ticks,color,fmt,lo,hi}){
  const cells=d3.range(min,max,step);
  const svg=Plot.plot({width:18+50,height:197+20,marginLeft:0,marginRight:50,marginTop:10,marginBottom:10,style:STYLE,
    x:{domain:[0,1],axis:null},y:{domain:[min,max]},color,marks:[
    Plot.rect(cells,{x1:0,x2:1,y1:d=>d,y2:d=>d+step*1.4,fill:d=>d+step/2,shapeRendering:"crispEdges",clip:true}),
    Plot.dot([max],{x:.5,y:d=>d,symbol:triUp,fill:()=>hi,stroke:"#000",strokeWidth:.8}),
    Plot.dot([min],{x:.5,y:d=>d,symbol:triDown,fill:()=>lo,stroke:"#000",strokeWidth:.8}),
    Plot.frame({stroke:"#000",strokeWidth:.8}),
    Plot.axisY({anchor:"right",ticks,tickSize:5,tickPadding:3,label:null,tickFormat:fmt})]});
  place(svg,left,129.3-10);
}
const minus=d=>String(d).replace("-","\u2212");
colorbar({left:706.7,min:-50,max:20,step:.5,ticks:zhTicks,color:zhColor,fmt:minus,lo:-50,hi:20});
colorbar({left:1502,min:-4,max:4,step:.05,ticks:velTicks,color:velColor,fmt:minus,lo:-4,hi:4});

function add(cls,html,x,y,size){const d=document.createElement("div");d.className=cls;d.innerHTML=html;d.style.left=x+"px";d.style.top=y+"px";d.style.fontSize=size+"px";page.appendChild(d);}
const titles=[["DCR - BASTA",CX1,106],["DCR - BASTA",CX2,106],["weather station",CX1,403],["weather station",CX2,403],["Disdrometer and Weather station",CX1,699.5],["Relationship disdrometer fall speed / drop size",CX2,699.5]];
titles.forEach(([s,x,y])=>add("t",`<i>${s}</i>`,x,y,16.7));
const SPEED="<i>m.s</i><sup>\u22121</sup>";
const bigLabels=[["r","Altitude [m AGL]",21.5,229],["r","Altitude [m AGL]",819,229],["r","Temperature [<i>\u00b0C</i>]",19.5,525],["r","Relative Humidity [%]",732,526],["r",`Wind Speed [${SPEED}]`,814,527],["r","Wind Direction [\u00b0]",1540,525],["r","Cumulative rainfall [<i>mm</i>]",21.5,822],["r",`Fall speed [${SPEED}]`,814,822],["t","Time [UTC]",CX2,674.5],["t","Time [UTC]",CX1,972.5],["t","Diameter [<i>mm</i>]",CX2,972.5]];
bigLabels.forEach(([k,s,x,y])=>add(k,s,x,y,19.6));
add("r","Zh [<i>dBZ</i>]",783,229,16.5);
add("r",`Velocity [${SPEED}]`,1572,229,17);
add("t","Measurement site: SIRTA (48.717N, 2.209E, 156m)",801,27.5,22.2);
add("t","23-08-2026",801,51,22.2);

function legend(x1,x2,y1,y2,items){
  const b=document.createElement("div");b.className="lg";Object.assign(b.style,{left:x1+"px",top:y1+"px",width:(x2-x1)+"px",height:(y2-y1)+"px"});page.appendChild(b);
  items.forEach(it=>{
    const s=document.createElement("div");
    if(it.dot){s.style.cssText=`position:absolute;left:${it.sx-3}px;top:${it.y-3}px;width:6px;height:6px;border-radius:50%;background:${it.c}`;}
    else{s.className="sw";s.style.cssText=`left:${it.sx}px;top:${it.y-1.5}px;width:${it.sw}px;background:${it.c}`;}
    page.appendChild(s);
    const t=document.createElement("div");t.className="lt";t.textContent=it.t;t.style.left=it.tx+"px";t.style.top=it.y+"px";page.appendChild(t);
  });
}
legend(100.7,176.3,426.3,457.7,[{sx:104.7,sw:37,y:441,c:"#0ba5ff",t:"ta",tx:154}]);
legend(594.3,671.7,434.3,465.3,[{sx:600,sw:36,y:449.3,c:"#ffa500",t:"rh",tx:648}]);
legend(895.7,1054.3,426.3,457.7,[{sx:901,sw:36,y:441,c:"#ff0000",t:"Wind Speed",tx:949}]);
legend(1293.3,1475.7,426.3,457.7,[{dot:true,sx:1316,y:442,c:"#008000",t:"Wind Direction",tx:1346.7}]);
legend(483,681,865,922,[{sx:488,sw:36,y:880,c:"#f28e63",t:"Thies Clima LNM",tx:536},{sx:488,sw:36,y:906,c:"#999999",t:"Weather Station",tx:536}]);

const logo=document.createElementNS("http://www.w3.org/2000/svg","svg");
logo.setAttribute("width",1600);logo.setAttribute("height",110);logo.style.left="0";logo.style.top="0";
logo.innerHTML=`<defs><linearGradient id="arc" gradientUnits="userSpaceOnUse" x1="1306" y1="0" x2="1451" y2="0"><stop offset="0" stop-color="#8fd0cb"/><stop offset=".35" stop-color="#2f8f9d"/><stop offset=".68" stop-color="#0d1233"/><stop offset="1" stop-color="#0d1233"/></linearGradient>
<linearGradient id="mast" x1="0" y1="0" x2="0" y2="1"><stop offset="0" stop-color="#ffffff"/><stop offset=".5" stop-color="#0d1233"/></linearGradient></defs>
<path d="M1306,49 Q1378,-15 1451,49" fill="none" stroke="url(#arc)" stroke-width="3"/>
<rect x="1421.5" y="2" width="3" height="52" fill="url(#mast)"/>
<text x="1297" y="77" font-family="Lato" font-size="28" fill="#0d1233" stroke="#0d1233" stroke-width=".5" textLength="158" lengthAdjust="spacing">ACTRIS</text>
<text x="1377" y="99.5" font-family="Lato" font-size="17.5" fill="#1a1f45" text-anchor="middle">CCRES</text>`;
page.appendChild(logo);
</script></body></html>
